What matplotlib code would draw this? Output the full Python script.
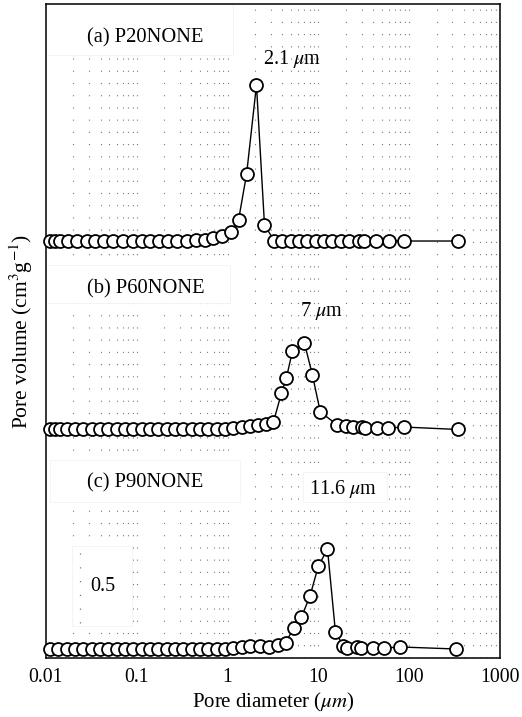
import numpy as np
import matplotlib
matplotlib.use("Agg")
import matplotlib.pyplot as plt
from matplotlib.patches import Rectangle

plt.rcParams["font.family"] = ["Liberation Serif", "DejaVu Serif"]
plt.rcParams["mathtext.fontset"] = "stix"

# pore diameter (um) and pore volume (cm3/g) for each sample
d_p20 = [0.0111, 0.0126, 0.0143, 0.0175, 0.0219, 0.0282, 0.0345, 0.0433, 0.0544,
         0.0701, 0.090, 0.113, 0.139, 0.175, 0.219, 0.275, 0.354, 0.445, 0.558,
         0.684, 0.859, 1.08, 1.32, 1.62, 2.08, 2.55, 3.28, 4.02, 5.05, 6.18, 7.57,
         9.5, 11.6, 14.3, 17.9, 21.9, 28.2, 32.0, 43.4, 60.3, 88.1, 345]
v_p20 = [0, 0, 0, 0, 0, 0, 0, 0, 0,
         0, 0, 0, 0, 0, 0, 0, 0.003, 0.007, 0.01,
         0.021, 0.035, 0.063, 0.146, 0.465, 1.083, 0.111, 0, 0, 0, 0, 0,
         0, 0, 0, 0, 0, 0, 0, 0, 0, 0, 0]

d_p60 = [0.0111, 0.0126, 0.0143, 0.0170, 0.0209, 0.0255, 0.032, 0.0392, 0.048,
         0.060, 0.074, 0.090, 0.113, 0.139, 0.170, 0.214, 0.262, 0.320, 0.402,
         0.492, 0.603, 0.757, 0.927, 1.135, 1.425, 1.745, 2.14, 2.62, 3.20, 3.92,
         4.45, 5.18, 7.0, 8.6, 10.5, 16.2, 20.3, 24.3, 30.5, 32.9, 44.5, 58.7, 88, 345]
v_p60 = [0, 0, 0, 0, 0, 0, 0, 0, 0,
         0, 0, 0, 0, 0, 0, 0, 0, 0, 0,
         0, 0, 0, 0.003, 0.007, 0.014, 0.021, 0.028, 0.038, 0.052, 0.253,
         0.36, 0.545, 0.604, 0.378, 0.122, 0.031, 0.024, 0.017, 0.017, 0.01, 0.01, 0.01, 0.017, 0]

d_p90 = [0.0111, 0.0136, 0.0170, 0.0209, 0.0255, 0.032, 0.0392, 0.048, 0.060,
         0.074, 0.090, 0.113, 0.139, 0.170, 0.214, 0.262, 0.320, 0.402, 0.492,
         0.603, 0.757, 0.927, 1.135, 1.425, 1.745, 2.25, 2.83, 3.55, 4.35, 5.33,
         6.5, 8.1, 10.0, 12.6, 15.4, 18.8, 20.9, 26.8, 29.7, 40.2, 53.1, 79.6, 328]
v_p90 = [0, 0, 0, 0, 0, 0, 0, 0, 0,
         0, 0, 0, 0, 0, 0, 0, 0, 0, 0,
         0, 0, 0, 0.005, 0.014, 0.02, 0.02, 0.017, 0.028, 0.042, 0.146,
         0.22, 0.37, 0.576, 0.694, 0.12, 0.02, 0.01, 0.014, 0.007, 0.007, 0.007, 0.014, 0]

samples = ["(a) P20NONE", "(b) P60NONE", "(c) P90NONE"]
offsets = [2.896, 1.587, 0.0625]
peak_labels = ["2.1 $\\mu$m", "7 $\\mu$m", "11.6 $\\mu$m"]

fig = plt.figure(figsize=(5.22, 7.17), dpi=100)
ax = fig.add_axes([0.0881, 0.0823, 0.8697, 0.9121])
ax.set_xscale("log")
ax.set_xlim(0.01, 1000)
ax.set_ylim(0, 4.542)

# dotted grid at every decade sub-division
grid_x = [m * 10.0 ** k for k in range(-2, 3) for m in range(1, 10)][1:]
for gx in grid_x:
    ax.axvline(gx, color="#7a7a7a", lw=0.8, ls=(0, (1, 10)), zorder=1)

# white boxes behind the labels
boxes = [(0.0, 0.922, 0.412, 0.078), (0.0, 0.543, 0.405, 0.058),
         (0.009, 0.2385, 0.418, 0.064), (0.566, 0.2385, 0.185, 0.046),
         (0.057, 0.049, 0.132, 0.122)]
for bx, by, bw, bh in boxes:
    ax.add_patch(Rectangle((bx, by), bw, bh, transform=ax.transAxes,
                           facecolor="white", edgecolor="#f2f2f2", lw=0.6, zorder=2))

for d, v, off in zip([d_p20, d_p60, d_p90], [v_p20, v_p60, v_p90], offsets):
    ax.plot(d, np.asarray(v) + off, color="black", lw=1.0, marker="o", ms=9.3,
            mfc="white", mec="black", mew=1.3, zorder=3, clip_on=False)

label_pos = [(0.218, 0.948), (0.220, 0.564), (0.218, 0.2676)]
for s, (tx, ty) in zip(samples, label_pos):
    ax.text(tx, ty, s, transform=ax.transAxes, ha="center", va="center",
            fontsize=14.8, zorder=4)

peak_pos = [(0.542, 0.916), (0.606, 0.531), (0.654, 0.258)]
for s, (tx, ty) in zip(peak_labels, peak_pos):
    ax.text(tx, ty, s, transform=ax.transAxes, ha="center", va="center",
            fontsize=14.5, zorder=4)

# scale bar
ax.plot([0.076, 0.076], [0.0535, 0.162], transform=ax.transAxes,
        color="#7a7a7a", lw=0.9, ls=(0, (1, 10)), zorder=3)
ax.text(0.1256, 0.110, "0.5", transform=ax.transAxes, ha="center", va="center",
        fontsize=14.5, zorder=4)

ax.set_yticks([])
ax.set_xticks([0.01, 0.1, 1, 10, 100, 1000])
ax.set_xticklabels(["0.01", "0.1", "1", "10", "100", "1000"])
ax.minorticks_off()
ax.tick_params(axis="x", length=0, pad=7, labelsize=14.2)
for sp in ax.spines.values():
    sp.set_linewidth(1.1)

ax.set_xlabel("Pore diameter ($\\mu m$)", fontsize=15, labelpad=3)
ax.set_ylabel("Pore volume (cm$^{3}$g$^{-1}$)", fontsize=15.5, labelpad=8)

fig.savefig("out.png", dpi=100)
